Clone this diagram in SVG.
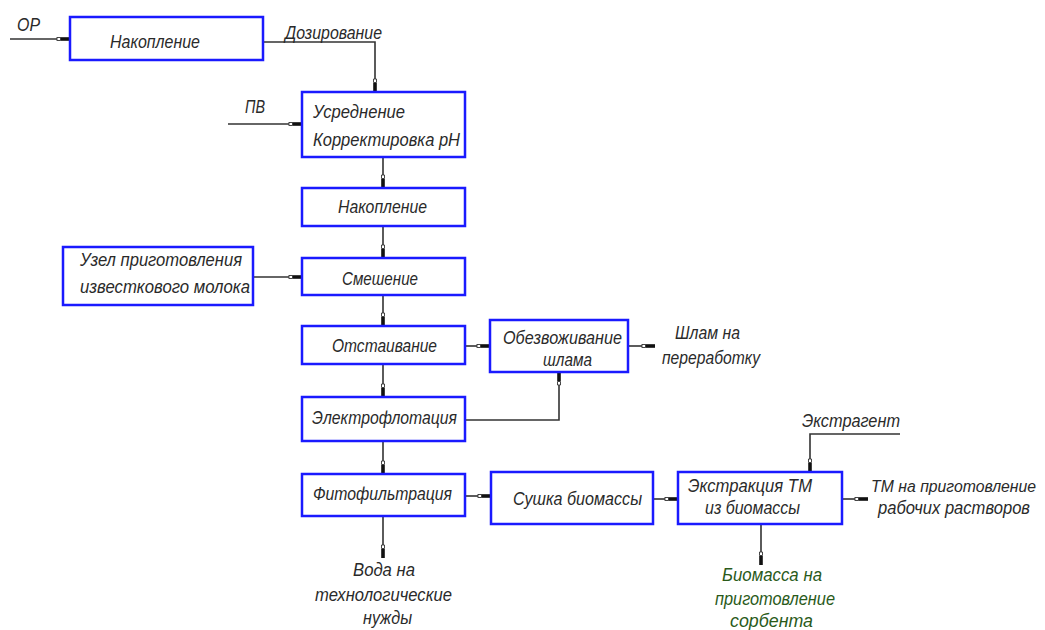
<svg xmlns="http://www.w3.org/2000/svg" width="1045" height="630" viewBox="0 0 1045 630">
<defs>
<marker id="arr" markerUnits="userSpaceOnUse" markerWidth="15" markerHeight="8" viewBox="0 0 15 8" refX="14" refY="4" orient="auto">
<rect x="1" y="2.5" width="3.5" height="3" fill="#fff" stroke="#333" stroke-width="0.9"/>
<rect x="5" y="2.2" width="9" height="3.6" fill="#111"/>
</marker>
</defs>
<style>
.box{fill:#fff;stroke:#1a1aff;stroke-width:2.5}
.t{font-family:"Liberation Sans",Arial,sans-serif;font-style:italic;font-size:18px;fill:#2a2a2a}
.g{fill:#2a5a1a}
.c{fill:none;stroke:#333;stroke-width:1.6}
.a{marker-end:url(#arr)}
</style>
<rect width="1045" height="630" fill="#fff"/>
<g id="connectors">
<path class="c a" d="M10 39H70"/>
<path class="c a" d="M263 42H375V92"/>
<path class="c a" d="M228 124H302"/>
<path class="c a" d="M383 158V188"/>
<path class="c a" d="M383 226V258"/>
<path class="c a" d="M253 277H302"/>
<path class="c a" d="M383 295V326"/>
<path class="c a" d="M465 346H490"/>
<path class="c a" d="M628 346H655"/>
<path class="c a" d="M383 364V397"/>
<path class="c a" d="M465 420H559V372"/>
<path class="c a" d="M383 441V474"/>
<path class="c a" d="M465 496H491"/>
<path class="c a" d="M653 499H678"/>
<path class="c a" d="M383 516V558"/>
<path class="c a" d="M900 434H810V472"/>
<path class="c a" d="M842 499H868"/>
<path class="c a" d="M761 524V565"/>
</g>
<g id="labels">
<text class="t" x="17" y="31" textLength="23" lengthAdjust="spacingAndGlyphs">ОР</text>
<text class="t" x="285" y="39" textLength="97" lengthAdjust="spacingAndGlyphs">Дозирование</text>
<text class="t" x="245" y="113" textLength="20" lengthAdjust="spacingAndGlyphs">ПВ</text>
<text class="t" x="675" y="339" textLength="65" lengthAdjust="spacingAndGlyphs">Шлам на</text>
<text class="t" x="662" y="364" textLength="98" lengthAdjust="spacingAndGlyphs">переработку</text>
<text class="t" x="353" y="576" textLength="62" lengthAdjust="spacingAndGlyphs">Вода на</text>
<text class="t" x="315" y="601" textLength="137" lengthAdjust="spacingAndGlyphs">технологические</text>
<text class="t" x="363" y="624" textLength="49" lengthAdjust="spacingAndGlyphs">нужды</text>
<text class="t" x="802" y="427" textLength="98" lengthAdjust="spacingAndGlyphs">Экстрагент</text>
<text class="t" x="871" y="492" style="font-size:16px" textLength="165" lengthAdjust="spacingAndGlyphs">ТМ на приготовление</text>
<text class="t" x="878" y="514" textLength="152" lengthAdjust="spacingAndGlyphs">рабочих растворов</text>
<text class="t g" x="722" y="581" textLength="100" lengthAdjust="spacingAndGlyphs">Биомасса на</text>
<text class="t g" x="715" y="605" textLength="120" lengthAdjust="spacingAndGlyphs">приготовление</text>
<text class="t g" x="730" y="627" textLength="83" lengthAdjust="spacingAndGlyphs">сорбента</text>
</g>
<g id="n1"><rect class="box" x="70" y="17" width="193" height="43"/><text class="t" x="110" y="48" textLength="90" lengthAdjust="spacingAndGlyphs">Накопление</text></g>
<g id="n2"><rect class="box" x="302" y="92" width="163" height="65"/><text class="t" x="313" y="118" textLength="92" lengthAdjust="spacingAndGlyphs">Усреднение</text><text class="t" x="313" y="146" textLength="147" lengthAdjust="spacingAndGlyphs">Корректировка pH</text></g>
<g id="n3"><rect class="box" x="302" y="188" width="163" height="38"/><text class="t" x="338" y="213" textLength="89" lengthAdjust="spacingAndGlyphs">Накопление</text></g>
<g id="n4"><rect class="box" x="63" y="247" width="190" height="58"/><text class="t" x="80" y="266" textLength="162" lengthAdjust="spacingAndGlyphs">Узел приготовления</text><text class="t" x="80" y="293" textLength="170" lengthAdjust="spacingAndGlyphs">известкового молока</text></g>
<g id="n5"><rect class="box" x="302" y="258" width="163" height="37"/><text class="t" x="342" y="285" textLength="76" lengthAdjust="spacingAndGlyphs">Смешение</text></g>
<g id="n6"><rect class="box" x="302" y="326" width="163" height="38"/><text class="t" x="332" y="352" textLength="105" lengthAdjust="spacingAndGlyphs">Отстаивание</text></g>
<g id="n7"><rect class="box" x="490" y="320" width="138" height="52"/><text class="t" x="503" y="344" textLength="119" lengthAdjust="spacingAndGlyphs">Обезвоживание</text><text class="t" x="543" y="366" textLength="49" lengthAdjust="spacingAndGlyphs">шлама</text></g>
<g id="n8"><rect class="box" x="302" y="397" width="163" height="44"/><text class="t" x="312" y="424" textLength="145" lengthAdjust="spacingAndGlyphs">Электрофлотация</text></g>
<g id="n9"><rect class="box" x="302" y="474" width="163" height="42"/><text class="t" x="313" y="500" textLength="139" lengthAdjust="spacingAndGlyphs">Фитофильтрация</text></g>
<g id="n10"><rect class="box" x="491" y="472" width="162" height="52"/><text class="t" x="513" y="505" textLength="129" lengthAdjust="spacingAndGlyphs">Сушка биомассы</text></g>
<g id="n11"><rect class="box" x="678" y="472" width="164" height="52"/><text class="t" x="688" y="492" textLength="124" lengthAdjust="spacingAndGlyphs">Экстракция ТМ</text><text class="t" x="705" y="514" textLength="95" lengthAdjust="spacingAndGlyphs">из биомассы</text></g>
</svg>
